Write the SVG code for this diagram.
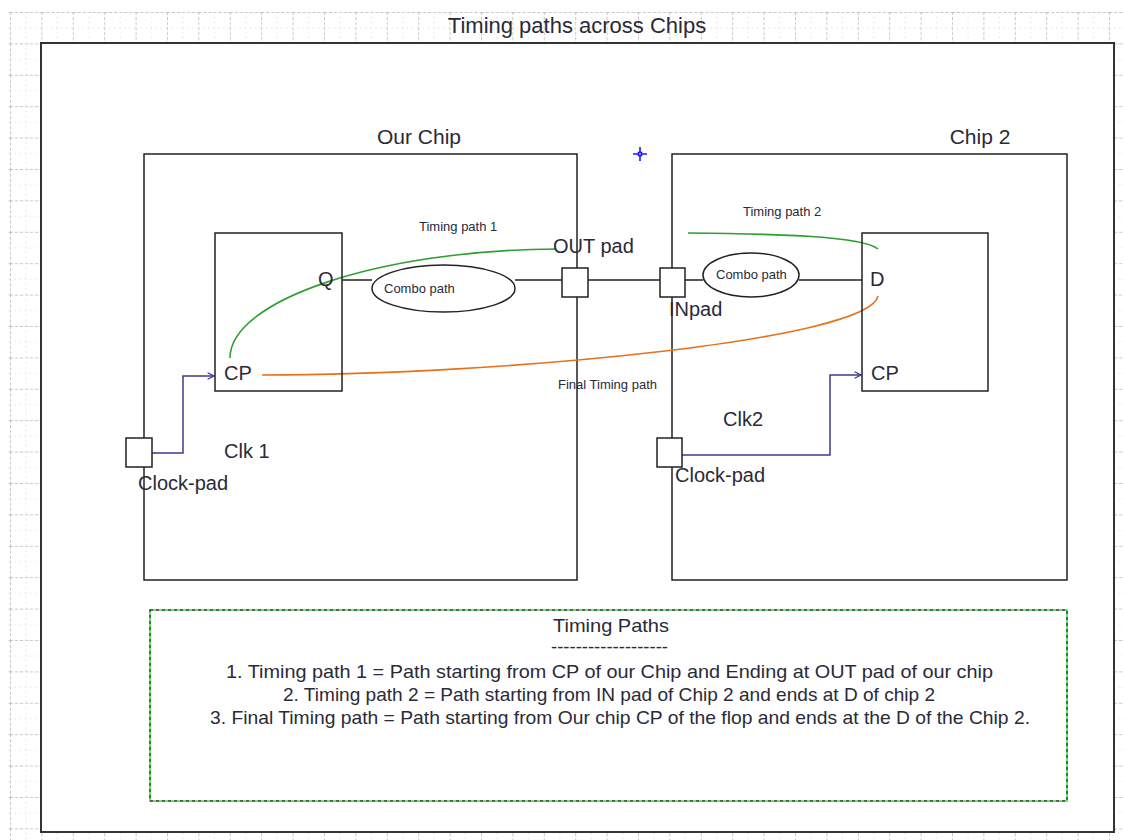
<svg xmlns="http://www.w3.org/2000/svg" width="1124" height="840" viewBox="0 0 1124 840">
<style>
text{font-family:"Liberation Sans",Arial,sans-serif;fill:#2a2a38}
.big{font-size:20px}
.chip{font-size:21px}
.sm{font-size:13px}
.note{font-size:18.5px}
.box{fill:#fff;stroke:#222;stroke-width:1.5}
.wire{fill:none;stroke:#222;stroke-width:1.5}
.clk{fill:none;stroke:#3b3b8f;stroke-width:1.5}
.pad{fill:#fff;stroke:#222;stroke-width:1.5}
.ell{fill:#fff;stroke:#222;stroke-width:1.5}
</style>
<defs>
<pattern id="grid" x="10" y="12" width="31.4" height="31.4" patternUnits="userSpaceOnUse">
<path d="M0,0.5 H31.4 M0.5,0 V31.4" stroke="#c4c4c4" stroke-width="1" stroke-dasharray="3,2" fill="none"/>
<path d="M0,16 H31.4 M16,0 V31.4" stroke="#d4d4d4" stroke-width="1" stroke-dasharray="1,4" fill="none"/>
</pattern>
<marker id="arr" viewBox="0 0 10 10" refX="9" refY="5" markerWidth="8" markerHeight="8" markerUnits="userSpaceOnUse" orient="auto">
<path d="M1,1 L9,5 L1,9" fill="none" stroke="#3b3b8f" stroke-width="1.5"/>
</marker>
</defs>
<rect width="1124" height="840" fill="#fff"/>
<rect x="8" y="12" width="1116" height="828" fill="url(#grid)"/>
<rect id="frame" x="41" y="43" width="1073" height="789" fill="#fff" stroke="#333" stroke-width="2"/>
<text x="577" y="33" text-anchor="middle" style="font-size:22px">Timing paths across Chips</text>

<g id="our-chip">
<rect class="box" x="144" y="154" width="433" height="426"/>
<text class="chip" x="419" y="144" text-anchor="middle">Our Chip</text>
</g>
<g id="chip2">
<rect class="box" x="672" y="154" width="395" height="426"/>
<text class="chip" x="980" y="144" text-anchor="middle">Chip 2</text>
</g>

<g id="connectors">
<path class="wire" d="M342,280 H372 M515,280 H562 M588,280 H660 M685,280 H703 M799,280 H862"/>
<path class="clk" d="M152,453 H183 V376 H214" marker-end="url(#arr)"/>
<path class="clk" d="M682,455 H830 V375 H861" marker-end="url(#arr)"/>
<path d="M230,358 C230,300 380,250 556,249" fill="none" stroke="#2e9e2e" stroke-width="1.6"/>
<path d="M688,233 C780,234 862,236 878,249" fill="none" stroke="#2e9e2e" stroke-width="1.6"/>
<path d="M262,375 C500,375 870,340 878,296" fill="none" stroke="#e8701a" stroke-width="1.6"/>
</g>

<g id="flop1">
<rect class="box" x="215" y="233" width="127" height="158" style="fill:none"/>
<text class="big" x="318" y="286">Q</text>
<text class="big" x="224" y="380">CP</text>
</g>
<g id="flop2">
<rect class="box" x="862" y="233" width="126" height="158" style="fill:none"/>
<text class="big" x="870" y="286">D</text>
<text class="big" x="871" y="380">CP</text>
</g>

<g id="combo1">
<ellipse class="ell" cx="443.5" cy="288.5" rx="71.5" ry="23.5"/>
<text class="sm" x="384" y="293">Combo path</text>
</g>
<g id="combo2">
<ellipse class="ell" cx="751" cy="275" rx="48" ry="22"/>
<text class="sm" x="716" y="279">Combo path</text>
</g>

<g id="out-pad">
<rect class="pad" x="562" y="268" width="26" height="29"/>
<text class="big" x="553" y="253">OUT pad</text>
</g>
<g id="in-pad">
<rect class="pad" x="660" y="268" width="25" height="29"/>
<text class="big" x="669" y="316">INpad</text>
</g>
<g id="clock-pad1">
<rect class="pad" x="126" y="438" width="26" height="29"/>
<text class="big" x="138" y="490">Clock-pad</text>
<text class="big" x="224" y="458">Clk 1</text>
</g>
<g id="clock-pad2">
<rect class="pad" x="657" y="438" width="25" height="29"/>
<text class="big" x="675" y="482">Clock-pad</text>
<text class="big" x="723" y="426">Clk2</text>
</g>

<g id="labels">
<text class="sm" x="419" y="231">Timing path 1</text>
<text class="sm" x="743" y="216">Timing path 2</text>
<text class="sm" x="558" y="389">Final Timing path</text>
</g>

<g id="marker-cross" stroke="#1a1aff" stroke-width="1.6" fill="none">
<path d="M633,154 H647 M640,147 V161"/>
<rect x="638.5" y="152.5" width="3" height="3" fill="#fff"/>
</g>

<g id="notes">
<rect x="150" y="610" width="917" height="191" fill="#fff" stroke="#33dd33" stroke-width="1.5"/>
<rect x="150" y="610" width="917" height="191" fill="none" stroke="#444" stroke-width="1.5" stroke-dasharray="3,3"/>
<text class="note" x="553" y="632" textLength="116" lengthAdjust="spacingAndGlyphs">Timing Paths</text>
<text class="note" x="551" y="653" textLength="117" lengthAdjust="spacingAndGlyphs">-------------------</text>
<text class="note" x="226" y="678" textLength="767" lengthAdjust="spacingAndGlyphs">1. Timing path 1 = Path starting from CP of our Chip and Ending at OUT pad of our chip</text>
<text class="note" x="283" y="701" textLength="652" lengthAdjust="spacingAndGlyphs">2. Timing path 2 = Path starting from IN pad of Chip 2 and ends at D of chip 2</text>
<text class="note" x="210" y="724" textLength="820" lengthAdjust="spacingAndGlyphs">3. Final Timing path = Path starting from Our chip CP of the flop and ends at the D of the Chip 2.</text>
</g>
</svg>
